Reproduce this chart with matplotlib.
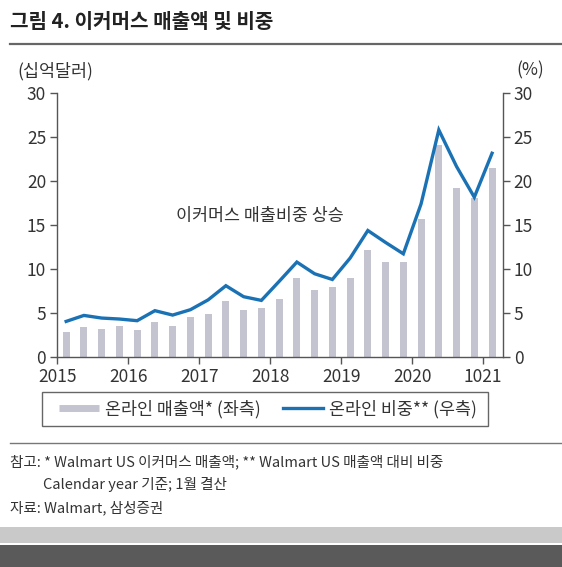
import matplotlib
matplotlib.use("Agg")
import matplotlib.pyplot as plt
from matplotlib.lines import Line2D
from matplotlib.patches import Rectangle
import numpy as np

plt.rcParams['font.family'] = ['Noto Sans CJK KR', 'DejaVu Sans']

# ---- data (2015 Q1 .. 2021 Q1) ----
online_sales = [2.80, 3.41, 3.22, 3.48, 3.03, 3.98, 3.52, 4.51,
                4.92, 6.40, 5.34, 5.53, 6.59, 8.94, 7.61, 7.95,
                8.98, 12.2, 10.76, 10.76, 15.68, 24.13, 19.2, 18.14, 21.48]
online_share = [4.05, 4.73, 4.43, 4.32, 4.13, 5.27, 4.77, 5.38,
                6.5, 8.11, 6.86, 6.44, 8.6, 10.8, 9.47, 8.82,
                11.25, 14.39, 13.03, 11.74, 17.42, 25.83, 21.67, 18.18, 23.18]
year_labels = ['2015', '2016', '2017', '2018', '2019', '2020', '1021']
y_ticks = [0, 5, 10, 15, 20, 25, 30]

W, H = 562, 567
fig = plt.figure(figsize=(W / 100, H / 100), dpi=100)

def fx(px):
    return px / W

def fy(py):
    return 1 - py / H

TXT = '#333333'
BAR = '#c3c4d0'
LINE = '#1a72b5'
SPINE = '#555555'

ax = fig.add_axes([fx(57.3), fy(357.0), fx(502.7) - fx(57.3), fy(93.3) - fy(357.0)])
x = np.arange(len(online_sales)) + 0.5
ax.bar(x, online_sales, width=0.4, color=BAR, zorder=2)
ax.set_ylim(0, 30)
ax.set_xlim(0, 25.1)
ax.set_yticks(y_ticks)
ax.set_xticks(np.arange(len(year_labels)) * 4)
ax.set_xticklabels(year_labels)

ax2 = ax.twinx()
ax2.plot(x, online_share, color=LINE, lw=2.4, zorder=3, solid_joinstyle='miter')
ax2.set_ylim(0, 30)
ax2.set_yticks(y_ticks)

for a in (ax, ax2):
    a.spines['top'].set_visible(False)
    for s in ('left', 'right', 'bottom'):
        a.spines[s].set_color(SPINE)
        a.spines[s].set_linewidth(1.0)
    a.tick_params(axis='both', colors=SPINE, labelcolor=TXT, labelsize=12.5,
                  length=5, width=1.0, direction='out', pad=3)
ax.spines['right'].set_visible(False)
ax2.spines['left'].set_visible(False)
ax2.spines['bottom'].set_visible(False)

# annotation
ax.text(fx(260), fy(216), '이커머스 매출비중 상승', transform=fig.transFigure,
        ha='center', va='center', fontsize=12.5, color=TXT)

# axis unit labels
fig.text(fx(17), fy(71), '(십억달러)', ha='left', va='center', fontsize=12.5, color=TXT)
fig.text(fx(544), fy(70), '(%)', ha='right', va='center', fontsize=12.5, color=TXT)

# title
fig.text(fx(10), fy(21), '그림 4. 이커머스 매출액 및 비중', ha='left', va='center',
         fontsize=14.5, fontweight='bold', color='#222222')
fig.add_artist(Line2D([fx(10), fx(562)], [fy(44), fy(44)], color='#666666', lw=1.6))

# legend with manual frame
fig.add_artist(Rectangle((fx(42), fy(426)), fx(488) - fx(42), fy(392) - fy(426),
                         facecolor='none', edgecolor='#666666', lw=1.0,
                         transform=fig.transFigure))
handles = [Line2D([], [], color=BAR, lw=5, solid_capstyle='butt'),
           Line2D([], [], color=LINE, lw=2.4)]
fig.legend(handles, ['온라인 매출액* (좌측)', '온라인 비중** (우측)'],
           loc='center', bbox_to_anchor=(fx(268), fy(409)), ncol=2, frameon=False,
           fontsize=12.5, handlelength=2.3, handletextpad=0.35, columnspacing=1.3,
           labelcolor=TXT)

# notes
fig.add_artist(Line2D([fx(10), fx(562)], [fy(443), fy(443)], color='#777777', lw=1.0))
fig.text(fx(10), fy(462), '참고: * Walmart US 이커머스 매출액; ** Walmart US 매출액 대비 비중',
         ha='left', va='center', fontsize=10.5, color=TXT)
fig.text(fx(43), fy(485), 'Calendar year 기준; 1월 결산', ha='left', va='center',
         fontsize=10.5, color=TXT)
fig.text(fx(10), fy(508), '자료: Walmart, 삼성증권', ha='left', va='center',
         fontsize=10.5, color=TXT)

# bottom bands
fig.add_artist(Rectangle((0, fy(543)), 1, fy(527) - fy(543), facecolor='#c9c9c9',
                         edgecolor='none', transform=fig.transFigure))
fig.add_artist(Rectangle((0, 0), 1, fy(544.5), facecolor='#5a5a5a',
                         edgecolor='none', transform=fig.transFigure))

fig.savefig('out.png', dpi=100)
